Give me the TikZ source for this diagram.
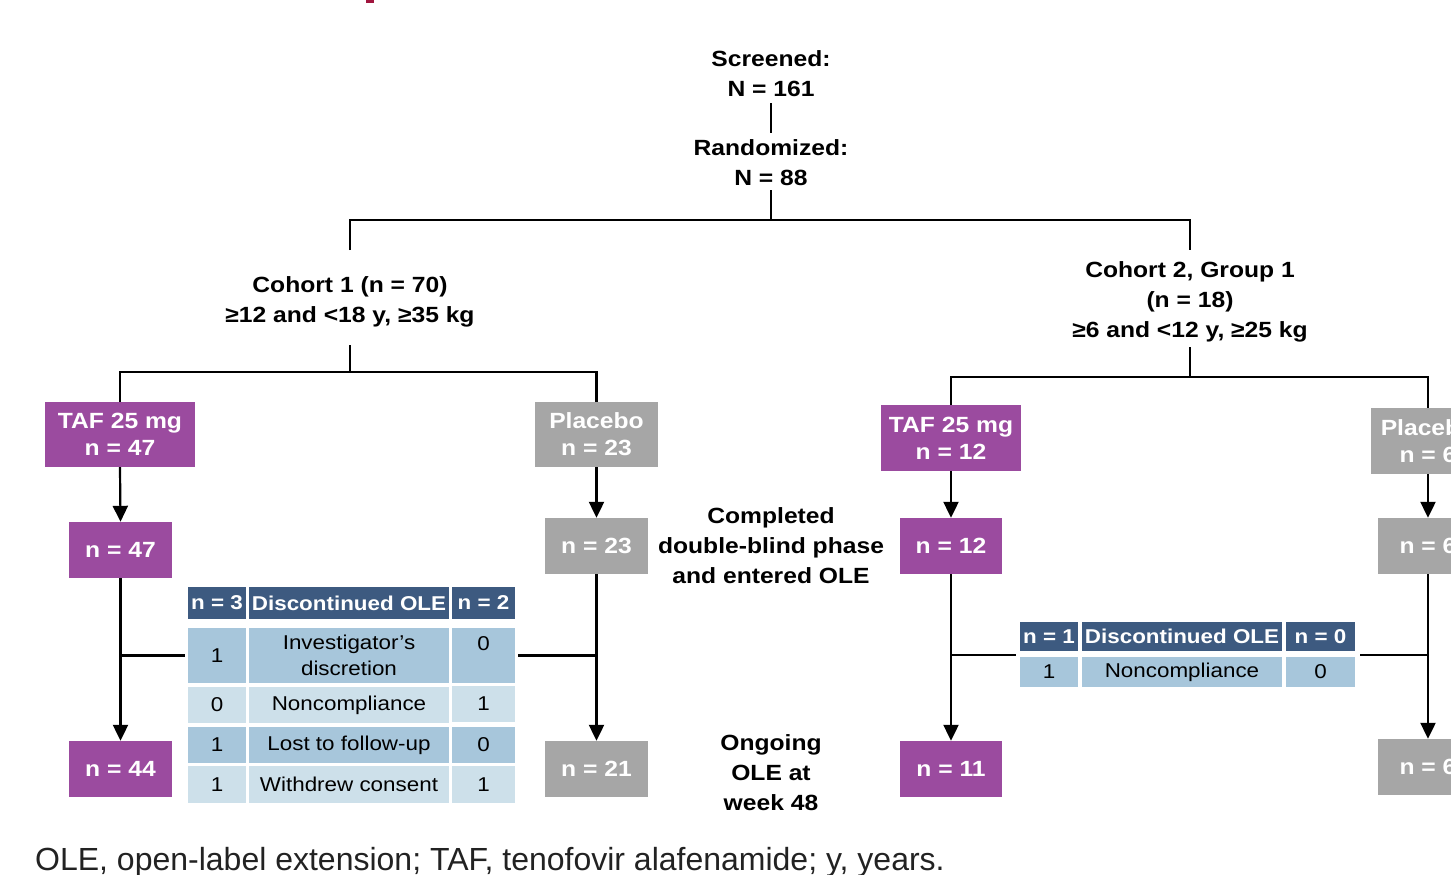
\documentclass[tikz,border=0pt]{standalone}
\usepackage{fontspec}
\setmainfont{Liberation Sans}[FakeStretch=1.12]
\newfontfamily\footfont{Liberation Sans}
\usetikzlibrary{arrows.meta}
\definecolor{purp}{HTML}{9B4B9F}
\definecolor{gry}{HTML}{A6A6A6}
\definecolor{hdr}{HTML}{3D5A80}
\definecolor{rowa}{HTML}{A7C6DB}
\definecolor{rowb}{HTML}{CDE0EA}
\definecolor{redm}{HTML}{A0153E}
\definecolor{foottxt}{HTML}{222222}
\begin{document}
\begin{tikzpicture}[x=1pt,y=-1pt,
 lbl/.style={align=center, font=\fontsize{22}{30}\selectfont\bfseries, inner sep=0pt},
 pbox/.style={fill=purp, text=white, align=center, font=\fontsize{22}{27}\selectfont\bfseries, inner sep=0pt},
 gbox/.style={pbox, fill=gry},
 hcell/.style={fill=hdr, text=white, font=\fontsize{20}{24}\selectfont\bfseries, inner sep=0pt},
 ca/.style={fill=rowa, font=\fontsize{20}{26}\selectfont, inner sep=0pt, align=center},
 cb/.style={ca, fill=rowb},
 ln/.style={line width=2.2pt},
 arr/.style={ln, -{Triangle[width=15pt,length=16pt]}}
]
\useasboundingbox (0,0) rectangle (1451,875);
\clip (0,0) rectangle (1451,875);
\fill[redm] (366,0) rectangle (374,3);

% top labels
\node[lbl] (scr) at (771,74) {Screened:\\N = 161};
\node[lbl] (rnd) at (771,162.5) {Randomized:\\N = 88};
\node[lbl] (c1) at (350,302) {Cohort 1 (n = 70)\\≥12 and <18 y, ≥35 kg};
\node[lbl] (c2) at (1190,302) {Cohort 2, Group 1\\(n = 18)\\≥6 and <12 y, ≥25 kg};
\node[lbl] (comp) at (771,546) {Completed\\double-blind phase\\and entered OLE};
\node[lbl] (ongo) at (771,773) {Ongoing\\OLE at\\week 48};

% coordinates
\coordinate (s1) at (771,103);
\coordinate (s2) at (771,133);
\coordinate (r1) at (771,190);
\coordinate (r2) at (771,220);
\coordinate (c1t) at (350,250);
\coordinate (c2t) at (1190,250);
\coordinate (c1b) at (350,345);
\coordinate (c1j) at (350,372);
\coordinate (c2b) at (1190,347);
\coordinate (c2j) at (1190,377);

% boxes
\node[pbox, minimum width=150pt, minimum height=65pt] (taf1) at (120,434.5) {TAF 25 mg\\n = 47};
\node[gbox, minimum width=123pt, minimum height=65pt] (pl1) at (596.5,434.5) {Placebo\\n = 23};
\node[pbox, minimum width=140pt, minimum height=66pt] (taf2) at (951,438) {TAF 25 mg\\n = 12};
\node[gbox, minimum width=114pt, minimum height=66pt] (pl2) at (1428,441) {Placebo\\n = 6};

\node[pbox, minimum width=103pt, minimum height=56pt] (m1) at (120.5,550) {n = 47};
\node[gbox, minimum width=103pt, minimum height=56pt] (m2) at (596.5,546) {n = 23};
\node[pbox, minimum width=102pt, minimum height=56pt] (m3) at (951,546) {n = 12};
\node[gbox, minimum width=100pt, minimum height=56pt] (m4) at (1428,546) {n = 6};

\node[pbox, minimum width=103pt, minimum height=56pt] (b1) at (120.5,769) {n = 44};
\node[gbox, minimum width=103pt, minimum height=56pt] (b2) at (596.5,769) {n = 21};
\node[pbox, minimum width=102pt, minimum height=56pt] (b3) at (951,769) {n = 11};
\node[gbox, minimum width=100pt, minimum height=56pt] (b4) at (1428,767) {n = 6};

% left table
\node[hcell, minimum width=58pt, minimum height=32pt] (lh1) at (217,603) {n = 3};
\node[hcell, minimum width=200pt, minimum height=32pt] (lh2) at (349,603) {Discontinued OLE};
\node[hcell, minimum width=63pt, minimum height=32pt] (lh3) at (483.5,603) {n = 2};
\node[ca, minimum width=58pt, minimum height=55pt] (la1) at (217,655.5) {1};
\node[ca, minimum width=200pt, minimum height=55pt] (la2) at (349,655.5) {Investigator’s\\discretion};
\node[ca, minimum width=63pt, minimum height=55pt, text depth=26pt, text height=16pt] (la3) at (483.5,655.5) {0};
\node[cb, minimum width=58pt, minimum height=36pt] (lb1) at (217,705) {0};
\node[cb, minimum width=200pt, minimum height=36pt] (lb2) at (349,705) {Noncompliance};
\node[cb, minimum width=63pt, minimum height=36pt] (lb3) at (483.5,703.5) {1};
\node[ca, minimum width=58pt, minimum height=36pt] (lc1) at (217,745) {1};
\node[ca, minimum width=200pt, minimum height=36pt] (lc2) at (349,745) {Lost to follow-up};
\node[ca, minimum width=63pt, minimum height=36pt] (lc3) at (483.5,745) {0};
\node[cb, minimum width=58pt, minimum height=37pt] (ld1) at (217,784.5) {1};
\node[cb, minimum width=200pt, minimum height=37pt] (ld2) at (349,784.5) {Withdrew consent};
\node[cb, minimum width=63pt, minimum height=37pt] (ld3) at (483.5,784.5) {1};

% right table
\node[hcell, minimum width=58pt, minimum height=29pt] (rh1) at (1049,636.5) {n = 1};
\node[hcell, minimum width=200pt, minimum height=29pt] (rh2) at (1182,636.5) {Discontinued OLE};
\node[hcell, minimum width=69pt, minimum height=29pt] (rh3) at (1320.5,636.5) {n = 0};
\node[ca, minimum width=58pt, minimum height=30pt] (ra1) at (1049,672) {1};
\node[ca, minimum width=200pt, minimum height=30pt] (ra2) at (1182,672) {Noncompliance};
\node[ca, minimum width=69pt, minimum height=30pt] (ra3) at (1320.5,672) {0};

% junctions
\coordinate (jl1) at (120.5,655.5);
\coordinate (jl2) at (596.5,655.5);
\coordinate (jr1) at (951,655);
\coordinate (jr1e) at (1016,655);
\coordinate (jr2s) at (1360,655);
\coordinate (jr2) at (1428,655);

% connectors
\draw[ln] (s1) -- (s2);
\draw[ln] (r1) -- (r2);
\draw[ln] (c1t) -- (c1t |- r2) -- (c2t |- r2) -- (c2t);
\draw[ln] (c1b) -- (c1j);
\draw[ln] (taf1.north) -- (taf1.north |- c1j) -- (pl1.north |- c1j) -- (pl1.north);
\draw[ln] (c2b) -- (c2j);
\draw[ln] (taf2.north) -- (taf2.north |- c2j) -- (pl2.north |- c2j) -- (pl2.north);

\draw[arr] (taf1.south) -- (m1.north);
\draw[arr] (pl1.south) -- (m2.north);
\draw[arr] (taf2.south) -- (m3.north);
\draw[arr] (pl2.south) -- (m4.north);
\draw[arr] (m1.south) -- (b1.north);
\draw[arr] (m2.south) -- (b2.north);
\draw[arr] (m3.south) -- (b3.north);
\draw[arr] (m4.south) -- (b4.north);

\draw[ln, shorten >=3pt] (jl1) -- (la1.west);
\draw[ln, shorten <=3pt] (la3.east) -- (jl2);
\draw[ln] (jr1) -- (jr1e);
\draw[ln] (jr2s) -- (jr2);

% footer
\node[anchor=base west, inner sep=0pt, text=foottxt, font=\footfont\fontsize{32}{34}\selectfont] (foot) at (35,870) {OLE, open-label extension; TAF, tenofovir alafenamide; y, years.};
\end{tikzpicture}
\end{document}
